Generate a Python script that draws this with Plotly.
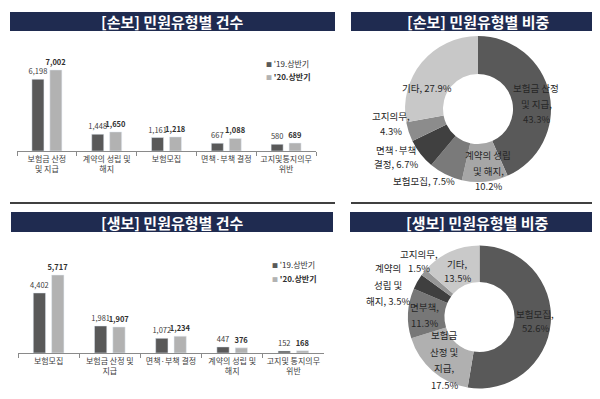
import plotly.graph_objects as go

# ---------------- data ----------------
nonlife_categories = ["보험금 산정<br>및 지급", "계약의 성립 및<br>해지", "보험모집", "면책·부책 결정", "고지및통지의무<br>위반"]
nonlife_2019 = [6198, 1448, 1161, 667, 580]
nonlife_2020 = [7002, 1650, 1218, 1088, 689]

life_categories = ["보험모집", "보험금 산정 및<br>지급", "면책·부책 결정", "계약의 성립 및<br>해지", "고지및 통지의무<br>위반"]
life_2019 = [4402, 1981, 1072, 447, 152]
life_2020 = [5717, 1907, 1234, 376, 168]

series_names = ["'19.상반기", "'20.상반기"]

nonlife_share_labels = ["보험금 산정<br>및 지급", "계약의 성립<br>및 해지", "보험모집", "면책·부책<br>결정", "고지의무", "기타"]
nonlife_share_values = [43.3, 10.2, 7.5, 6.7, 4.3, 27.9]

life_share_labels = ["보험모집", "보험금<br>산정 및<br>지급", "면부책", "계약의<br>성립 및<br>해지", "고지의무", "기타"]
life_share_values = [52.6, 17.5, 11.3, 3.5, 1.5, 13.5]

titles = ["[손보] 민원유형별 건수", "[손보] 민원유형별 비중", "[생보] 민원유형별 건수", "[생보] 민원유형별 비중"]

# ---------------- styling ----------------
W, H = 600, 399
FONT = "Noto Sans CJK KR"
DARK = "#595959"
LIGHT = "#b2b2b2"
NAVY = "#1f2b50"
nonlife_pie_colors = ["#595959", "#a6a6a6", "#7a7a7a", "#404040", "#8c8c8c", "#c8c8c8"]
life_pie_colors = ["#595959", "#b0b0b0", "#777777", "#3f3f3f", "#969696", "#c9c9c9"]

def px(x):
    return x / W

def py(y):
    return 1 - y / H

fig = go.Figure()

# bar charts
for (cats, v19, v20, ax) in [(nonlife_categories, nonlife_2019, nonlife_2020, ""),
                              (life_categories, life_2019, life_2020, "2")]:
    fig.add_trace(go.Bar(x=cats, y=v19, name=series_names[0], marker_color=DARK,
                         texttemplate="%{y:,}", textposition="outside",
                         textfont=dict(size=7.5, color="#404040", family=FONT),
                         constraintext="none", cliponaxis=False, showlegend=False,
                         xaxis="x" + ax, yaxis="y" + ax))
    fig.add_trace(go.Bar(x=cats, y=v20, name=series_names[1], marker_color=LIGHT,
                         texttemplate="<b>%{y:,}</b>", textposition="outside",
                         textfont=dict(size=7.5, color="#303030", family=FONT),
                         constraintext="none", cliponaxis=False, showlegend=False,
                         xaxis="x" + ax, yaxis="y" + ax))

# donuts
fig.add_trace(go.Pie(labels=[l.replace("<br>", " ") for l in nonlife_share_labels],
                     values=nonlife_share_values, hole=0.48, sort=False,
                     direction="clockwise", rotation=0,
                     marker=dict(colors=nonlife_pie_colors, line=dict(width=0)),
                     textinfo="none", showlegend=False,
                     domain=dict(x=[px(397), px(543)], y=[py(174), py(28)])))
fig.add_trace(go.Pie(labels=[l.replace("<br>", " ") for l in life_share_labels],
                     values=life_share_values, hole=0.49, sort=False,
                     direction="clockwise", rotation=0,
                     marker=dict(colors=life_pie_colors, line=dict(width=0)),
                     textinfo="none", showlegend=False,
                     domain=dict(x=[px(400), px(543)], y=[py(381), py(237)])))

axis_common = dict(showline=True, linecolor="#8a8a8a", linewidth=1, ticks="outside",
                   ticklen=4, tickcolor="#8a8a8a", tickson="boundaries", tickangle=0,
                   tickfont=dict(size=8, color="#404040", family=FONT),
                   showgrid=False, zeroline=False)
yaxis_common = dict(visible=False, showgrid=False, zeroline=False)

fig.update_layout(
    width=W, height=H,
    margin=dict(l=0, r=0, t=0, b=0),
    paper_bgcolor="white", plot_bgcolor="white",
    font=dict(family=FONT, color="#333333"),
    barmode="group", bargap=0.4, bargroupgap=0.33,
    xaxis=dict(domain=[px(9), px(308)], anchor="y", **axis_common),
    yaxis=dict(domain=[py(143), py(50.4)], range=[0, 8000], anchor="x", **yaxis_common),
    xaxis2=dict(domain=[px(10), px(316)], anchor="y2", **axis_common),
    yaxis2=dict(domain=[py(345), py(249.5)], range=[0, 7000], anchor="x2", **yaxis_common),
)

shapes = []
annotations = []

# title boxes
title_boxes = [(2, 327, 4, 23), (343, 597, 4, 23), (3, 325, 204, 224), (342, 597, 204, 224)]
for t, (x0, x1, y0, y1) in zip(titles, title_boxes):
    shapes.append(dict(type="rect", xref="paper", yref="paper", x0=px(x0), x1=px(x1),
                       y0=py(y1), y1=py(y0), fillcolor=NAVY, line=dict(width=0), layer="below"))
    annotations.append(dict(text="<b>" + t + "</b>", xref="paper", yref="paper",
                            x=px((x0 + x1) / 2), y=py((y0 + y1) / 2), showarrow=False,
                            xanchor="center", yanchor="middle",
                            font=dict(size=15, color="white", family=FONT)))

# separator lines
for (x0, x1, y, c, w) in [(2, 327, 195, "#000000", 1.5), (343, 597, 195, "#000000", 1.5),
                          (3, 325, 396, "#9a9a9a", 1.2), (342, 597, 396, "#9a9a9a", 1.2)]:
    shapes.append(dict(type="line", xref="paper", yref="paper", x0=px(x0), x1=px(x1),
                       y0=py(y), y1=py(y), line=dict(color=c, width=w)))

# legends (text)
for (lx, ly0) in [(256, 55), (262, 256)]:
    for i, (nm, col) in enumerate(zip(series_names, [DARK, LIGHT])):
        label = nm if i == 0 else "<b>" + nm + "</b>"
        annotations.append(dict(
            text="<span style='color:%s;font-size:6px'>■</span> %s" % (col, label),
            xref="paper", yref="paper", x=px(lx), y=py(ly0 + i * 14),
            xanchor="left", yanchor="middle", showarrow=False,
            font=dict(size=8, color="#303030", family=FONT)))

# donut data labels
def add_pie_labels(names, values, positions, breaks):
    for name, v, (cx, cy, sp), br in zip(names, values, positions, breaks):
        full = name + "," + ("<br>" if br else " ") + ("%.1f%%" % v)
        for k, line in enumerate(full.split("<br>")):
            annotations.append(dict(text=line, xref="paper", yref="paper",
                                    x=px(cx), y=py(cy + k * sp), showarrow=False,
                                    xanchor="center", yanchor="middle",
                                    font=dict(size=9.5, color="#262626", family=FONT)))

nonlife_label_pos = [(528, 80, 15.5), (480, 147, 15.5), (416, 173, 15), (388, 142, 14.5), (383, 108, 15), (419, 80, 15)]
nonlife_breaks = [True, True, False, False, True, False]
life_label_pos = [(527, 306, 13.5), (436, 327, 16.5), (417, 299, 16), (380, 260, 16.5), (411, 246, 14), (449, 256, 14)]
life_breaks = [True, True, True, False, True, True]

add_pie_labels(nonlife_share_labels, nonlife_share_values, nonlife_label_pos, nonlife_breaks)
add_pie_labels(life_share_labels, life_share_values, life_label_pos, life_breaks)

fig.update_layout(shapes=shapes, annotations=annotations)

fig.write_html("out.html")
